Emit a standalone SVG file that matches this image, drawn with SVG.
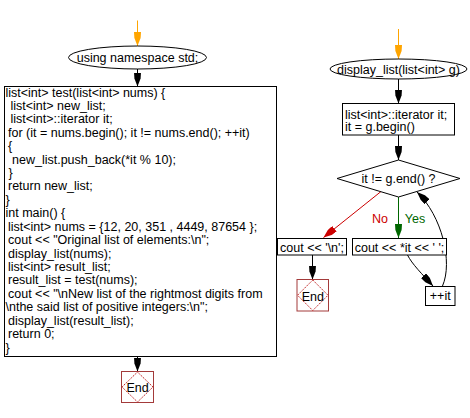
<svg xmlns="http://www.w3.org/2000/svg" width="470" height="418" viewBox="0 0 470 418">
<style>
text{font-family:"Liberation Sans",Arial,sans-serif;font-size:12.5px;fill:#000}
.c{text-anchor:middle}
.box{fill:#fff;stroke:#000;stroke-width:1}
.ln{fill:none;stroke:#000;stroke-width:1}
.endr{fill:#fff;stroke:#A33A3A;stroke-width:1}
.endd{fill:none;stroke:#C02020;stroke-width:1;stroke-dasharray:1.5,1}
</style>
<defs>
<marker id="ab" viewBox="0 0 14 7" refX="14" refY="3.5" markerWidth="14" markerHeight="7" orient="auto" markerUnits="userSpaceOnUse"><path d="M0,0 L6,0.4 L14,3.5 L6,6.6 L0,7 z" fill="#000"/></marker>
<marker id="ao" viewBox="0 0 14 7" refX="14" refY="3.5" markerWidth="14" markerHeight="7" orient="auto" markerUnits="userSpaceOnUse"><path d="M0,0 L6,0.4 L14,3.5 L6,6.6 L0,7 z" fill="#FFA500"/></marker>
<marker id="ar" viewBox="0 0 14 7" refX="14" refY="3.5" markerWidth="14" markerHeight="7" orient="auto" markerUnits="userSpaceOnUse"><path d="M0,0 L6,0.4 L14,3.5 L6,6.6 L0,7 z" fill="#CC0000"/></marker>
<marker id="ag" viewBox="0 0 14 7" refX="14" refY="3.5" markerWidth="14" markerHeight="7" orient="auto" markerUnits="userSpaceOnUse"><path d="M0,0 L6,0.4 L14,3.5 L6,6.6 L0,7 z" fill="#006600"/></marker>
</defs>
<g id="connectors">
<line x1="137.5" y1="20.5" x2="137.5" y2="46" stroke="#FFA500" stroke-width="1" marker-end="url(#ao)"/>
<line class="ln" x1="137.5" y1="69" x2="137.5" y2="86.5" marker-end="url(#ab)"/>
<line class="ln" x1="137.5" y1="356.5" x2="137.5" y2="371.5" marker-end="url(#ab)"/>
<line x1="398.5" y1="29" x2="398.5" y2="59" stroke="#FFA500" stroke-width="1" marker-end="url(#ao)"/>
<line class="ln" x1="398.5" y1="79" x2="398.5" y2="103.5" marker-end="url(#ab)"/>
<line class="ln" x1="398.5" y1="135" x2="398.5" y2="160" marker-end="url(#ab)"/>
<line x1="381" y1="191.5" x2="323.5" y2="237.5" stroke="#CC0000" stroke-width="1" marker-end="url(#ar)"/>
<line x1="398.5" y1="197" x2="398.5" y2="238" stroke="#006600" stroke-width="1" marker-end="url(#ag)"/>
<line class="ln" x1="312.5" y1="255" x2="312.5" y2="279.5" marker-end="url(#ab)"/>
<path class="ln" d="M407.5,255 C412,264 422,274 433,286" marker-end="url(#ab)"/>
<path class="ln" d="M442.5,286 C453,262 442,216 417,192" marker-end="url(#ab)"/>
<text x="380" y="223" class="c" style="fill:#CC0000">No</text>
<text x="415" y="223" class="c" style="fill:#006600">Yes</text>
</g>
<g id="n_using">
<ellipse class="box" cx="137.5" cy="57.5" rx="69" ry="11.5"/>
<text x="137.5" y="62" class="c">using namespace std;</text>
</g>
<g id="n_code">
<rect class="box" x="4.5" y="86.5" width="272" height="270"/>
<text x="5.5" y="96.5">list&lt;int&gt; test(list&lt;int&gt; nums) {</text>
<text x="10.5" y="109.9">list&lt;int&gt; new_list;</text>
<text x="10.5" y="123.3">list&lt;int&gt;::iterator it;</text>
<text x="8" y="136.8">for (it = nums.begin(); it != nums.end(); ++it)</text>
<text x="8" y="150.2">{</text>
<text x="12" y="163.6">new_list.push_back(*it % 10);</text>
<text x="8.5" y="177">}</text>
<text x="8" y="190.4">return new_list;</text>
<text x="5.5" y="203.9">}</text>
<text x="5.5" y="217.3">int main() {</text>
<text x="8" y="230.7">list&lt;int&gt; nums = {12, 20, 351 , 4449, 87654 };</text>
<text x="8" y="244.1">cout &lt;&lt; "Original list of elements:\n";</text>
<text x="8" y="257.5">display_list(nums);</text>
<text x="8" y="271">list&lt;int&gt; result_list;</text>
<text x="8" y="284.4">result_list = test(nums);</text>
<text x="8" y="297.8">cout &lt;&lt; "\nNew list of the rightmost digits from</text>
<text x="5.5" y="311.2">\nthe said list of positive integers:\n";</text>
<text x="8" y="324.6">display_list(result_list);</text>
<text x="8" y="338.1">return 0;</text>
<text x="5.5" y="351.5">}</text>
</g>
<g id="n_end1">
<rect class="endr" x="121.5" y="371.5" width="32" height="31"/>
<polygon class="endd" points="137.5,372 153,387 137.5,402 122,387"/>
<text x="137.5" y="392" class="c">End</text>
</g>
<g id="n_display">
<ellipse class="box" cx="398.5" cy="69" rx="68.5" ry="10"/>
<text x="398.5" y="73.5" class="c">display_list(list&lt;int&gt; g)</text>
</g>
<g id="n_init">
<rect class="box" x="342.5" y="103.5" width="112" height="31.5"/>
<text x="345" y="118.5">list&lt;int&gt;::iterator it;</text>
<text x="345" y="131">it = g.begin()</text>
</g>
<g id="n_cond">
<polygon class="box" points="398.5,160 460,178.5 398.5,197 337,178.5"/>
<text x="398.5" y="182.5" class="c">it != g.end() ?</text>
</g>
<g id="n_newline">
<rect class="box" x="277.5" y="238.5" width="69" height="16.5"/>
<text x="312" y="251.5" class="c">cout &lt;&lt; '\n';</text>
</g>
<g id="n_print">
<rect class="box" x="352.5" y="238.5" width="94" height="16.5"/>
<text x="399.5" y="251.5" class="c">cout &lt;&lt; *it &lt;&lt; ' ';</text>
</g>
<g id="n_end2">
<rect class="endr" x="297" y="279.5" width="31.5" height="31.5"/>
<polygon class="endd" points="312.75,280 328,295.25 312.75,310.5 297.5,295.25"/>
<text x="312.75" y="300.5" class="c">End</text>
</g>
<g id="n_inc">
<rect class="box" x="425.5" y="286.5" width="29.5" height="19"/>
<text x="440.25" y="300" class="c">++it</text>
</g>
</svg>
